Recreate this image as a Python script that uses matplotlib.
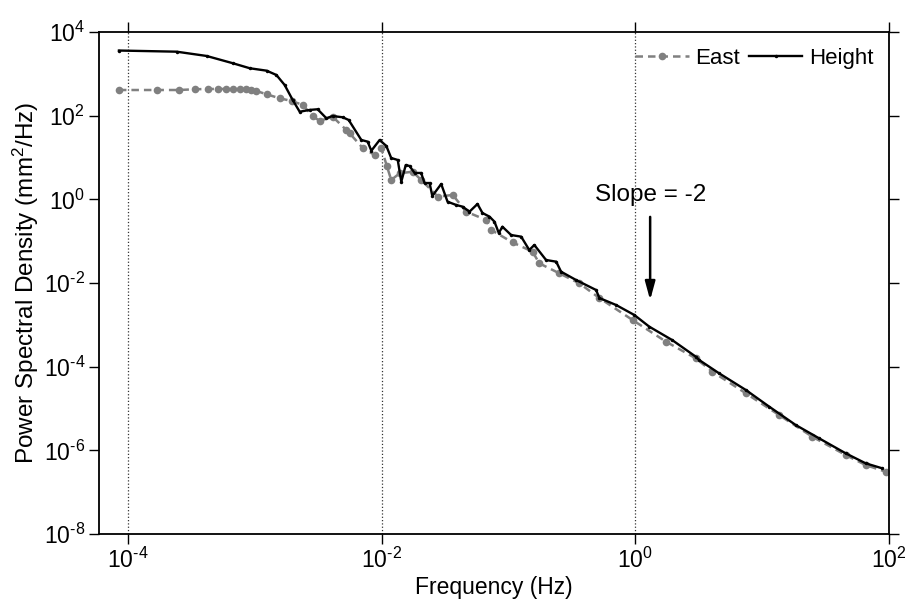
import matplotlib
matplotlib.use("Agg")
import matplotlib.pyplot as plt

plt.rcParams["font.family"] = ["Liberation Sans", "DejaVu Sans"]
plt.rcParams["mathtext.fontset"] = "custom"
plt.rcParams["mathtext.rm"] = "Liberation Sans"
plt.rcParams["mathtext.it"] = "Liberation Sans"

# East component PSD
east_freq = [
    8.49e-5, 1.68e-4, 2.52e-4, 3.37e-4, 4.24e-4, 5.09e-4, 5.93e-4, 6.78e-4,
    7.63e-4, 8.48e-4, 9.3e-4, 1.03e-3, 1.24e-3, 1.57e-3, 1.95e-3, 2.39e-3,
    2.86e-3, 3.25e-3, 4.11e-3, 5.27e-3, 5.60e-3, 7.12e-3, 8.81e-3, 9.95e-3,
    1.10e-2, 1.19e-2, 1.39e-2, 1.76e-2, 2.05e-2, 2.78e-2, 3.64e-2, 4.64e-2,
    6.68e-2, 7.31e-2, 0.108, 0.155, 0.175, 0.252, 0.362, 0.521, 0.953,
    1.75, 3.00, 4.06, 7.44, 13.6, 24.9, 45.6, 65.5, 94.1,
]
east_psd = [
    410, 410, 410, 427, 434, 434, 434, 427,
    427, 427, 410, 389, 324, 260, 224, 180,
    98, 74.5, 94.4, 45.4, 37.8, 16.6, 11.5, 16.6,
    6.26, 2.90, 4.19, 4.57, 2.90, 1.16, 1.27, 0.506,
    0.321, 0.185, 0.0929, 0.0560, 0.0295, 0.0170, 9.82e-3, 4.37e-3, 1.30e-3,
    3.94e-4, 1.58e-4, 7.57e-5, 2.31e-5, 6.98e-6, 2.11e-6, 7.72e-7, 4.45e-7, 3.08e-7,
]

# Height component PSD
height_freq = [
    8.49e-5, 2.42e-4, 4.17e-4, 6.71e-4, 9.14e-4, 1.24e-3, 1.48e-3, 1.72e-3,
    1.99e-3, 2.26e-3, 2.71e-3, 3.13e-3, 3.67e-3, 4.11e-3, 4.93e-3, 5.50e-3,
    6.92e-3, 7.76e-3, 8.30e-3, 9.65e-3, 1.09e-2, 1.19e-2, 1.34e-2, 1.43e-2,
    1.55e-2, 1.66e-2, 1.82e-2, 2.05e-2, 2.18e-2, 2.39e-2, 2.51e-2, 2.95e-2,
    3.31e-2, 3.88e-2, 4.35e-2, 4.93e-2, 5.70e-2, 6.24e-2, 7.09e-2, 7.76e-2,
    8.39e-2, 8.97e-2, 0.105, 0.126, 0.146, 0.160, 0.198, 0.238, 0.260,
    0.341, 0.491, 0.521, 0.705, 0.982, 1.29, 1.95, 3.00, 3.19, 4.58,
    7.44, 11.4, 18.4, 28.1, 45.6, 65.5, 88.5,
]
height_psd = [
    3600, 3380, 2670, 1790, 1357, 1188, 938, 541,
    237, 124, 137, 142, 86.5, 98, 91.4, 78.8,
    26.2, 23.9, 14.5, 26.2, 18.8, 9.73, 8.71, 2.64,
    6.60, 6.26, 4.26, 4.26, 2.45, 2.45, 1.20, 2.32,
    0.877, 0.731, 0.667, 0.506, 0.773, 0.471, 0.385, 0.292,
    0.157, 0.221, 0.140, 0.128, 0.0614, 0.0809, 0.0354, 0.0323, 0.0186,
    0.0118, 6.79e-3, 4.37e-3, 2.98e-3, 1.72e-3, 9.02e-4, 4.34e-4, 1.73e-4, 1.44e-4, 6.93e-5,
    2.77e-5, 1.10e-5, 4.03e-6, 1.94e-6, 8.48e-7, 4.89e-7, 3.71e-7,
]

x_ticks = [1e-4, 1e-2, 1e0, 1e2]
x_tick_labels = [r"$10^{\text{-}4}$", r"$10^{\text{-}2}$", r"$10^{0}$", r"$10^{2}$"]
y_ticks = [1e-8, 1e-6, 1e-4, 1e-2, 1e0, 1e2, 1e4]
y_tick_labels = [r"$10^{\text{-}8}$", r"$10^{\text{-}6}$", r"$10^{\text{-}4}$",
                 r"$10^{\text{-}2}$", r"$10^{0}$", r"$10^{2}$", r"$10^{4}$"]

fig = plt.figure(figsize=(9.08, 6.09), dpi=100)
ax = fig.add_axes([0.109, 0.1232, 0.870, 0.8243])

ax.plot(
    east_freq, east_psd,
    color="#808080", linestyle=(0, (3, 2)), linewidth=1.8,
    marker="o", markersize=5.5, markeredgewidth=0,
    label="East", zorder=2
)
ax.plot(
    height_freq, height_psd,
    color="black", linewidth=1.7,
    marker="o", markersize=2.5, markeredgewidth=0,
    label="Height", zorder=3
)

ax.set_xscale("log")
ax.set_yscale("log")
ax.set_xlim(5.91e-5, 100)
ax.set_ylim(1e-8, 1e4)

ax.set_xticks(x_ticks)
ax.set_xticklabels(x_tick_labels)
ax.set_yticks(y_ticks)
ax.set_yticklabels(y_tick_labels)
ax.minorticks_off()

ax.tick_params(
    axis="both", which="major", direction="out", length=7, width=1,
    labelsize=16.5, top=True, right=True, pad=3
)

ax.grid(axis="x", which="major", linestyle=":", color="#333333", linewidth=0.9)
ax.set_axisbelow(True)

for spine in ax.spines.values():
    spine.set_linewidth(1.3)

ax.set_xlabel("Frequency (Hz)", fontsize=16.5, labelpad=2)
ax.set_ylabel("Power Spectral Density (mm$^2$/Hz)", fontsize=17.5, labelpad=2)

ax.text(1.31, 0.91, "Slope = -2", fontsize=17.5, ha="center", va="baseline")
ax.annotate(
    "", xy=(1.31, 3.9e-3), xytext=(1.31, 0.38),
    arrowprops=dict(arrowstyle="-|>,head_width=0.3,head_length=1.1",
                    color="black", linewidth=1.8, shrinkA=0, shrinkB=0)
)

ax.legend(
    loc="upper right", ncol=2, frameon=False, fontsize=16,
    handlelength=2.4, handletextpad=0.3, columnspacing=0.4,
    borderaxespad=0.3
)

plt.savefig("out.png", dpi=100)
